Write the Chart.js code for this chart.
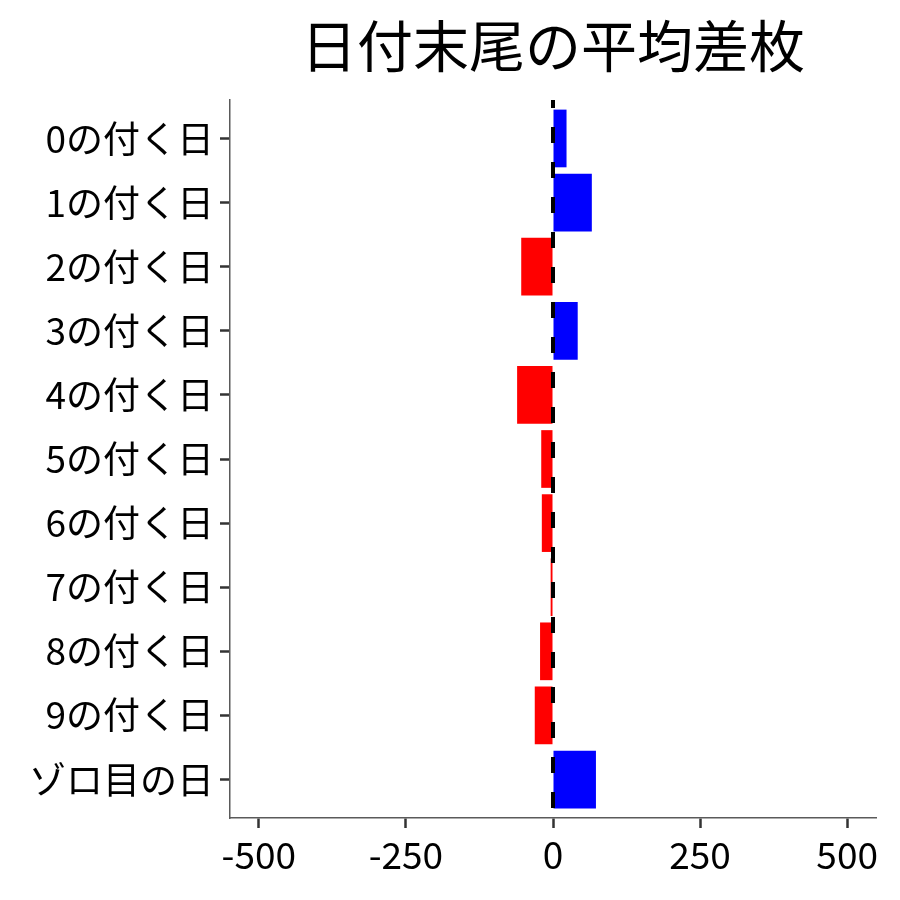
<!DOCTYPE html>
<html>
<head>
<meta charset="utf-8">
<script src="https://cdn.jsdelivr.net/npm/chart.js@4/dist/chart.umd.min.js"></script>
<style>
  html, body { margin: 0; padding: 0; background: #fff; }
  #wrap { width: 900px; height: 900px; }
</style>
</head>
<body>
<div id="wrap"><canvas id="chart" width="900" height="900"></canvas></div>
<script>
const categories = ['0の付く日', '1の付く日', '2の付く日', '3の付く日', '4の付く日',
  '5の付く日', '6の付く日', '7の付く日', '8の付く日', '9の付く日', 'ゾロ目の日'];
const diffValues = [23, 66, -54, 42, -61, -20, -19, -4, -22, -31, 73];
const xTicks = [-500, -250, 0, 250, 500];
const titleText = '日付末尾の平均差枚';

const FONT = '"Noto Sans CJK JP", "Noto Sans", sans-serif';

// dashed reference line at zero, drawn above the bars
const zeroLine = {
  id: 'zeroLine',
  afterDatasetsDraw(chart) {
    const { ctx, chartArea, scales } = chart;
    const x = scales.x.getPixelForValue(0);
    ctx.save();
    ctx.strokeStyle = '#000';
    ctx.lineWidth = 4;
    ctx.setLineDash([16, 19]);
    ctx.lineDashOffset = 8;
    ctx.beginPath();
    ctx.moveTo(x, chartArea.top);
    ctx.lineTo(x, chartArea.bottom);
    ctx.stroke();
    ctx.restore();
  }
};

// title centred over the panel, not the canvas
const panelTitle = {
  id: 'panelTitle',
  afterDraw(chart) {
    const { ctx, chartArea } = chart;
    ctx.save();
    ctx.fillStyle = '#000';
    ctx.font = '56px ' + FONT;
    ctx.textAlign = 'center';
    ctx.textBaseline = 'middle';
    ctx.fillText(titleText, (chartArea.left + chartArea.right) / 2, 46);
    ctx.restore();
  }
};

new Chart(document.getElementById('chart').getContext('2d'), {
  type: 'bar',
  data: {
    datasets: [{
      data: diffValues.map((v, i) => ({ x: v, y: i })),
      backgroundColor: diffValues.map(v => v >= 0 ? '#0000ff' : '#ff0000'),
      borderWidth: 0,
      categoryPercentage: 1,
      barPercentage: 0.9
    }]
  },
  options: {
    indexAxis: 'y',
    responsive: false,
    animation: false,
    layout: { padding: { left: 0, right: 24, top: 100, bottom: 0 } },
    plugins: {
      legend: { display: false },
      tooltip: { enabled: false },
      title: { display: false }
    },
    scales: {
      x: {
        type: 'linear',
        min: -549,
        max: 549,
        afterBuildTicks: s => { s.ticks = xTicks.map(v => ({ value: v })); },
        afterFit: s => { s.height = 82; },
        border: { display: true, color: '#5a5a5a', width: 1.5 },
        grid: { drawOnChartArea: false, drawTicks: true, tickLength: 10, tickColor: '#333', tickWidth: 2.5 },
        ticks: { color: '#000', font: { family: FONT, size: 37 }, padding: 5 }
      },
      y: {
        type: 'linear',
        reverse: true,
        offset: false,
        min: -0.6,
        max: categories.length - 0.4,
        afterBuildTicks: s => { s.ticks = categories.map((c, i) => ({ value: i })); },
        afterFit: s => { s.width = 230; },
        border: { display: true, color: '#5a5a5a', width: 1.5 },
        grid: { offset: false, drawOnChartArea: false, drawTicks: true, tickLength: 10, tickColor: '#333', tickWidth: 2.5 },
        ticks: {
          color: '#000',
          font: { family: FONT, size: 37 },
          padding: 6,
          callback: v => categories[v]
        }
      }
    }
  },
  plugins: [zeroLine, panelTitle]
});
</script>
</body>
</html>
